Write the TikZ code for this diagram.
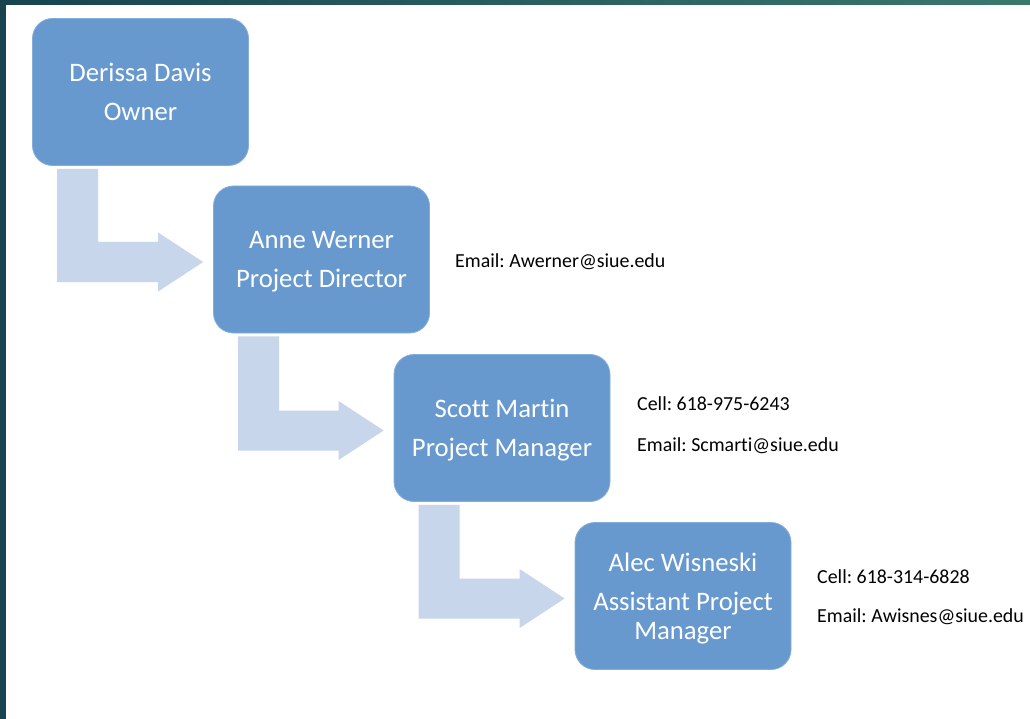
\documentclass[tikz,border=0pt]{standalone}
\usepackage{fontspec}
\setmainfont{Carlito}[Ligatures=NoCommon]
\usetikzlibrary{calc}
\definecolor{boxblue}{HTML}{6799CF}
\definecolor{arrowblue}{HTML}{C7D6EA}
\definecolor{framedark}{HTML}{17444F}
\definecolor{frametop}{HTML}{3A786C}
\newcommand{\bentarrow}[2]{%
  \path ($(#1.south west)+(25,3)$) coordinate (ta)
        ($(#1.south west)+(66,3)$) coordinate (tb)
        ($(#2.west)+(-10,2.5)$) coordinate (tip)
        ($(#2.west)+(-55,2.5)$) coordinate (hb);
  \fill[connector] (ta) -- (tb) -- ($(tb |- hb)+(0,-20)$) -- ($(hb)+(0,-20)$)
     -- ($(hb)+(0,-29.5)$) -- (tip) -- ($(hb)+(0,29.5)$) -- ($(hb)+(0,20)$)
     -- ($(ta |- hb)+(0,20)$) -- cycle;
}
\frenchspacing
\begin{document}
\begin{tikzpicture}[x=1pt,y=-1pt,
  person/.style={rounded corners=20pt, fill=boxblue, draw=boxblue!80!white,
    line width=0.8pt, minimum width=216pt, minimum height=147pt, inner sep=0pt,
    align=center, text=white, font=\fontsize{26.7}{29}\selectfont, text depth=0pt},
  info/.style={anchor=base west, font=\fontsize{19.9}{24}\selectfont\frenchspacing,
    text=black, inner sep=0pt},
  connector/.style={fill=arrowblue}]
\fill[white] (0,0) rectangle (1030,719);
\useasboundingbox (0,0) rectangle (1030,719);
\fill[framedark] (0,0) rectangle (6,719);
\shade[left color=framedark, right color=frametop] (0,0) rectangle (1030,5);

\node[person] (b1) at (140.5,92) {Derissa Davis\\[10pt]Owner};
\node[person] (b2) at (321.5,259.5) {Anne Werner\\[10pt]Project Director};
\node[person] (b3) at (502,428) {Scott Martin\\[10pt]Project Manager};
\node[person] (b4) at (683,596) {Alec Wisneski\\[10pt]Assistant Project\\Manager};

\bentarrow{b1}{b2}
\bentarrow{b2}{b3}
\bentarrow{b3}{b4}

\node[info] (e2) at (455,267.5) {Email: Awerner@siue.edu};
\node[info] (c3) at (637,410.5) {Cell: 618-975-6243};
\node[info] (e3) at (637,451) {Email: Scmarti@siue.edu};
\node[info] (c4) at (817,583) {Cell: 618-314-6828};
\node[info] (e4) at (817,622.5) {Email: Awisnes@siue.edu};
\end{tikzpicture}
\end{document}
